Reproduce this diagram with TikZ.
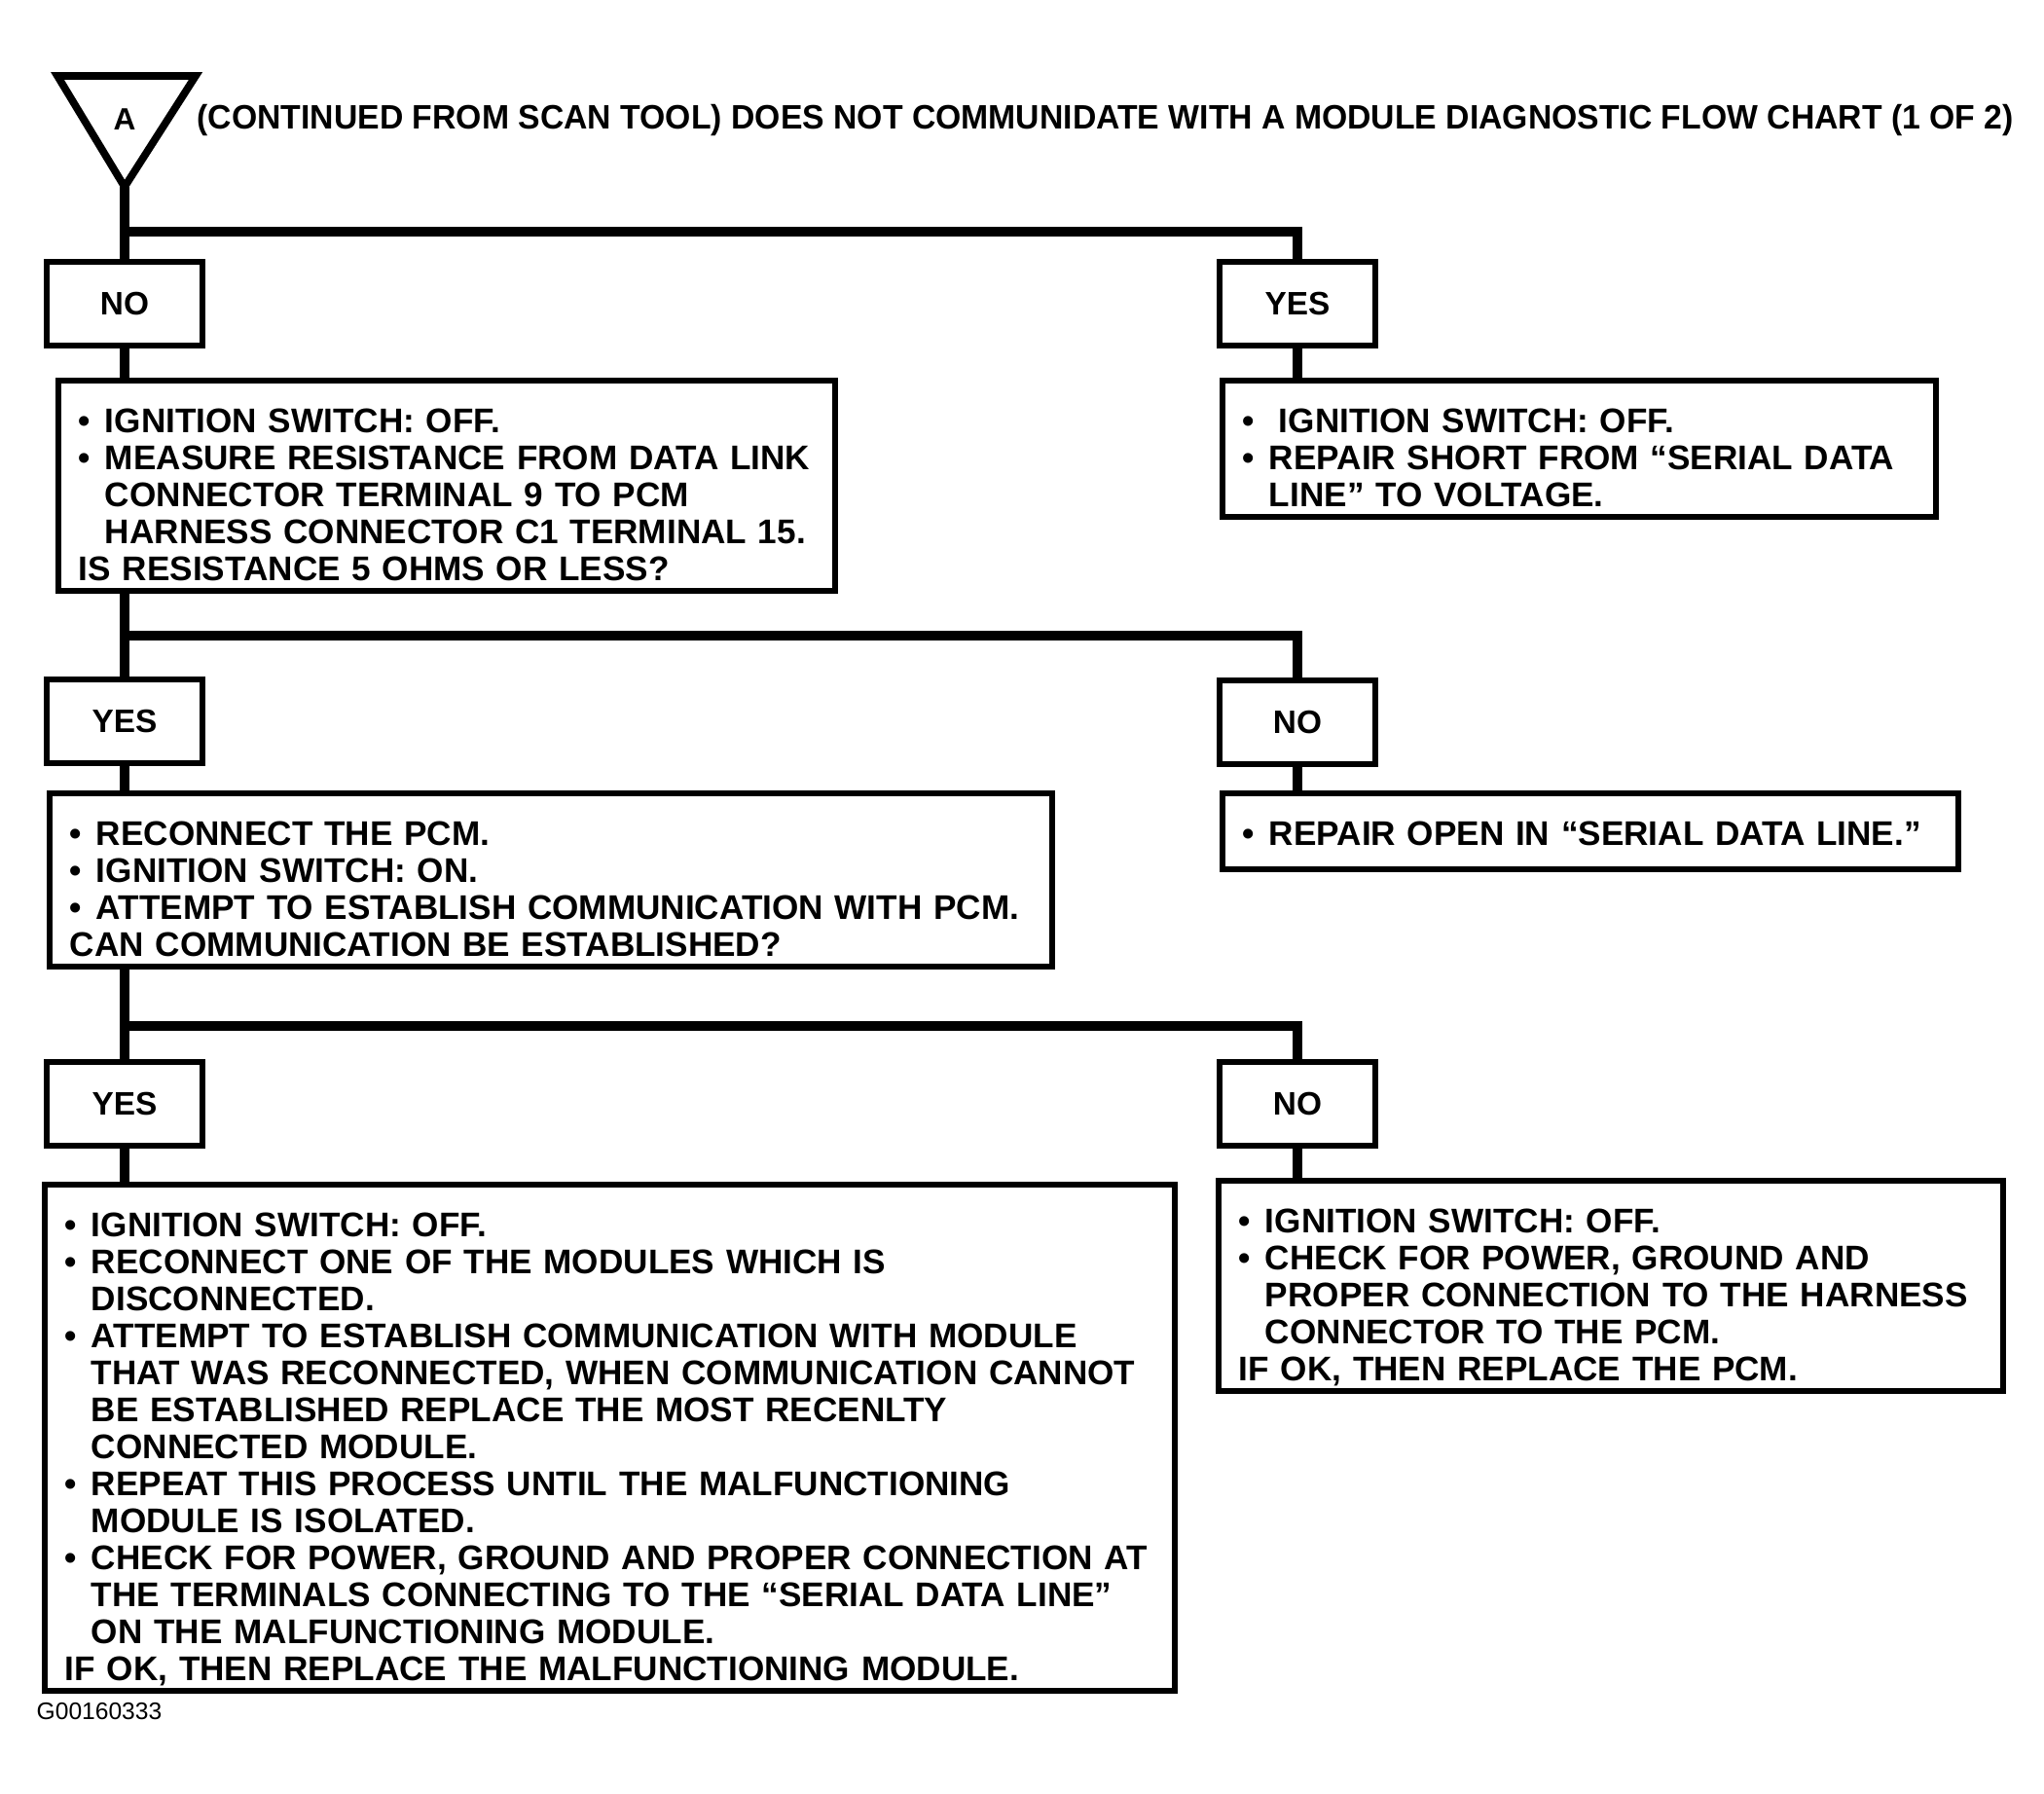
\documentclass[tikz,border=0pt]{standalone}
\usepackage{fontspec}
\setmainfont{Liberation Sans}
\newfontfamily\titlefont{Liberation Sans}[FakeStretch=0.97]
\usetikzlibrary{calc}
\newcommand{\bul}{\makebox[0.27cm][l]{\textbullet}}
\newcommand{\indt}{\hspace*{0.27cm}}

\begin{document}
\begin{tikzpicture}[
  box/.style={draw, line width=1.7pt, anchor=north west, align=left, inner xsep=0.21cm, inner ysep=0pt,
    font=\bfseries\fontsize{10}{10.81}\selectfont,
    execute at begin node={\rule{0pt}{0.54cm}}, execute at end node={\rule[-#1]{0pt}{#1}}},
  box/.default=0.1cm,
  yn/.style={draw, line width=1.7pt, minimum width=1.6cm, minimum height=0.86cm, inner sep=0pt,
    font=\bfseries\fontsize{9.5}{10}\selectfont},
  flow/.style={line width=3.1pt}]
\useasboundingbox (0,0) rectangle (21,-18.43);

\coordinate (apex) at (1.28,-1.92);
\draw[line width=2.2pt, line join=miter] (0.59,-0.78) -- (2.01,-0.78) -- (apex) -- cycle;
\node[font=\bfseries\fontsize{9}{10}\selectfont] (a) at (1.28,-1.23) {A};
\node[anchor=base west, inner sep=0pt, font=\titlefont\bfseries\fontsize{9.9}{12}\selectfont] (title) at (2.02,-1.33)
  {(CONTINUED FROM SCAN TOOL) DOES NOT COMMUNIDATE WITH A MODULE DIAGNOSTIC FLOW CHART (1 OF 2)};

\node[yn] (no1) at (1.28,-3.12) {NO};
\node[yn] (yes1) at (13.33,-3.12) {YES};
\node[box, text width=7.56cm] (q1) at (0.57,-3.88)
  {\bul IGNITION SWITCH: OFF.\\
   \bul MEASURE RESISTANCE FROM DATA LINK\\
   \indt CONNECTOR TERMINAL 9 TO PCM\\
   \indt HARNESS CONNECTOR C1 TERMINAL 15.\\
   IS RESISTANCE 5 OHMS OR LESS?};
\node[box, text width=6.91cm] (r1) at (12.53,-3.88)
  {\bul\hspace{0.1cm}IGNITION SWITCH: OFF.\\
   \bul REPAIR SHORT FROM “SERIAL DATA\\
   \indt LINE” TO VOLTAGE.};

\node[yn] (yes2) at (1.28,-7.41) {YES};
\node[yn] (no2) at (13.33,-7.42) {NO};
\node[box, text width=9.88cm] (q2) at (0.48,-8.12)
  {\bul RECONNECT THE PCM.\\
   \bul IGNITION SWITCH: ON.\\
   \bul ATTEMPT TO ESTABLISH COMMUNICATION WITH PCM.\\
   CAN COMMUNICATION BE ESTABLISHED?};
\node[box=0.24cm, text width=7.14cm] (r2) at (12.53,-8.12)
  {\bul REPAIR OPEN IN “SERIAL DATA LINE.”};

\node[yn] (yes3) at (1.28,-11.34) {YES};
\node[yn] (no3) at (13.33,-11.34) {NO};
\node[box, text width=11.19cm] (q3) at (0.43,-12.14)
  {\bul IGNITION SWITCH: OFF.\\
   \bul RECONNECT ONE OF THE MODULES WHICH IS\\
   \indt DISCONNECTED.\\
   \bul ATTEMPT TO ESTABLISH COMMUNICATION WITH MODULE\\
   \indt THAT WAS RECONNECTED, WHEN COMMUNICATION CANNOT\\
   \indt BE ESTABLISHED REPLACE THE MOST RECENLTY\\
   \indt CONNECTED MODULE.\\
   \bul REPEAT THIS PROCESS UNTIL THE MALFUNCTIONING\\
   \indt MODULE IS ISOLATED.\\
   \bul CHECK FOR POWER, GROUND AND PROPER CONNECTION AT\\
   \indt THE TERMINALS CONNECTING TO THE “SERIAL DATA LINE”\\
   \indt ON THE MALFUNCTIONING MODULE.\\
   IF OK, THEN REPLACE THE MALFUNCTIONING MODULE.};
\node[box, text width=7.64cm] (r3) at (12.49,-12.10)
  {\bul IGNITION SWITCH: OFF.\\
   \bul CHECK FOR POWER, GROUND AND\\
   \indt PROPER CONNECTION TO THE HARNESS\\
   \indt CONNECTOR TO THE PCM.\\
   IF OK, THEN REPLACE THE PCM.};

\node[anchor=base west, inner sep=0pt, font=\fontsize{7}{8}\selectfont] (ref) at (0.37,-17.67) {G00160333};

\coordinate (j1) at (1.28,-2.38);
\coordinate (j2) at (1.28,-6.53);
\coordinate (j3) at (1.28,-10.54);
\draw[flow] (apex) -- (no1.north);
\draw[flow] (j1) -| (yes1.north);
\draw[flow] (no1.south) -- (no1.south |- q1.north);
\draw[flow] (yes1.south) -- (yes1.south |- r1.north);
\draw[flow] (q1.south -| yes2) -- (yes2.north);
\draw[flow] (j2) -| (no2.north);
\draw[flow] (yes2.south) -- (yes2.south |- q2.north);
\draw[flow] (no2.south) -- (no2.south |- r2.north);
\draw[flow] (q2.south -| yes3) -- (yes3.north);
\draw[flow] (j3) -| (no3.north);
\draw[flow] (yes3.south) -- (yes3.south |- q3.north);
\draw[flow] (no3.south) -- (no3.south |- r3.north);
\end{tikzpicture}
\end{document}
